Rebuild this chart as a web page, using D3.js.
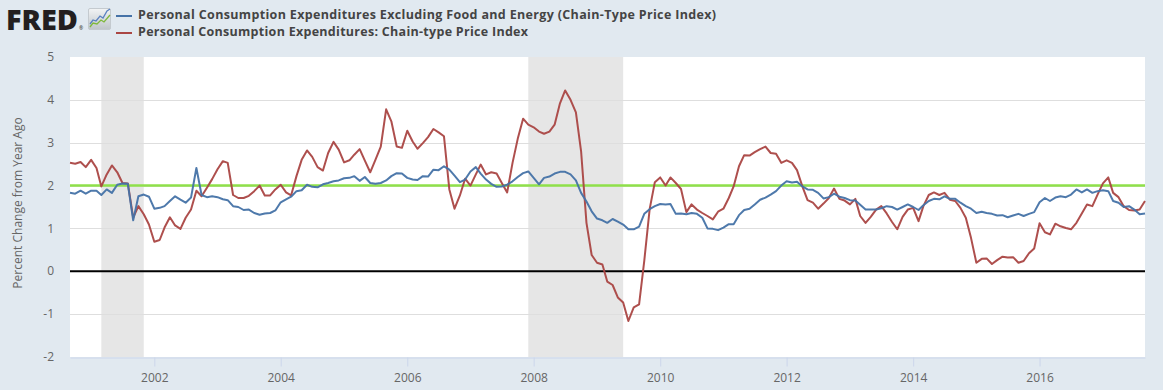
<!DOCTYPE html>
<html>
<head>
<meta charset="utf-8">
<script src="https://cdn.jsdelivr.net/npm/d3@7"></script>
<style>
  html, body { margin: 0; padding: 0; background: #e1e9f0; }
  svg { display: block; }
  text { font-family: "Open Sans", "DejaVu Sans", sans-serif; }
</style>
</head>
<body>
<svg id="chart" width="1163" height="390"></svg>
<script>
// ---- DATA ----
const seriesNames = [
  "Personal Consumption Expenditures Excluding Food and Energy (Chain-Type Price Index)",
  "Personal Consumption Expenditures: Chain-type Price Index"
];
const firstMonth = "2000-09";   // monthly observations, year-over-year % change
const coreValues = [
  1.83,1.81,1.88,1.81,1.88,1.88,1.78,1.91,1.83,2.02,2.05,2.04,
  1.19,1.75,1.79,1.74,1.46,1.48,1.52,1.64,1.75,1.67,1.60,1.72,
  2.41,1.78,1.73,1.75,1.73,1.68,1.66,1.52,1.50,1.43,1.44,1.36,
  1.32,1.35,1.36,1.42,1.61,1.68,1.74,1.87,1.89,2.02,1.97,1.96,
  2.03,2.06,2.10,2.12,2.17,2.18,2.22,2.11,2.20,2.06,2.04,2.06,
  2.12,2.22,2.29,2.28,2.18,2.14,2.13,2.22,2.21,2.37,2.36,2.45,
  2.37,2.23,2.08,2.14,2.33,2.43,2.28,2.14,2.04,1.97,1.98,2.02,
  2.10,2.20,2.29,2.33,2.18,2.03,2.18,2.21,2.28,2.32,2.32,2.26,
  2.12,1.83,1.63,1.40,1.23,1.19,1.13,1.22,1.16,1.09,0.98,0.98,
  1.04,1.34,1.45,1.52,1.57,1.56,1.57,1.34,1.35,1.33,1.36,1.34,
  1.25,1.00,0.99,0.96,1.02,1.10,1.10,1.31,1.43,1.46,1.56,1.67,
  1.72,1.79,1.87,2.00,2.10,2.07,2.09,1.98,1.91,1.90,1.83,1.70,
  1.73,1.81,1.74,1.71,1.66,1.65,1.55,1.44,1.44,1.44,1.47,1.52,
  1.50,1.44,1.50,1.56,1.50,1.43,1.54,1.64,1.69,1.68,1.75,1.69,
  1.69,1.60,1.52,1.46,1.36,1.39,1.36,1.34,1.30,1.31,1.26,1.30,
  1.34,1.29,1.34,1.38,1.61,1.71,1.64,1.72,1.75,1.73,1.79,1.91,
  1.84,1.91,1.83,1.87,1.89,1.87,1.64,1.60,1.50,1.52,1.44,1.33,
  1.35
];
const headlineValues = [
  2.53,2.51,2.55,2.43,2.60,2.41,1.98,2.26,2.47,2.31,2.06,2.05,
  1.25,1.52,1.33,1.09,0.69,0.73,1.02,1.26,1.07,0.99,1.25,1.44,
  1.88,1.75,1.95,2.15,2.38,2.57,2.53,1.78,1.71,1.71,1.76,1.87,
  2.00,1.77,1.77,1.91,2.02,1.84,1.77,2.22,2.60,2.82,2.67,2.43,
  2.35,2.76,3.02,2.84,2.54,2.59,2.72,2.85,2.58,2.31,2.60,2.91,
  3.78,3.50,2.91,2.88,3.28,3.03,2.86,2.99,3.13,3.32,3.24,3.15,
  1.91,1.46,1.77,2.16,2.00,2.26,2.49,2.26,2.31,2.28,2.06,1.84,
  2.53,3.09,3.56,3.42,3.36,3.26,3.21,3.26,3.42,3.92,4.22,4.00,
  3.71,2.80,1.13,0.38,0.20,0.16,-0.24,-0.32,-0.61,-0.73,-1.16,-0.84,
  -0.77,0.25,1.45,2.08,2.19,2.00,2.19,2.06,1.92,1.38,1.56,1.44,
  1.36,1.29,1.21,1.39,1.46,1.71,1.98,2.45,2.71,2.70,2.78,2.85,
  2.91,2.76,2.74,2.53,2.59,2.53,2.36,1.98,1.66,1.60,1.46,1.58,
  1.71,1.93,1.69,1.65,1.56,1.69,1.29,1.13,1.27,1.44,1.52,1.35,
  1.15,0.98,1.27,1.44,1.48,1.17,1.52,1.78,1.84,1.78,1.83,1.67,
  1.64,1.48,1.25,0.78,0.20,0.29,0.30,0.17,0.26,0.34,0.32,0.33,
  0.20,0.24,0.42,0.53,1.12,0.91,0.86,1.11,1.05,1.01,0.98,1.13,
  1.35,1.56,1.52,1.79,2.05,2.19,1.83,1.73,1.52,1.43,1.42,1.44,
  1.64
];
const recessions = [["2001-03-01","2001-11-01"],["2007-12-01","2009-06-01"]];
const targetLine = 2;
const yTicks = [-2,-1,0,1,2,3,4,5];
const xTickLabels = ["2002","2004","2006","2008","2010","2012","2014","2016"];
const yAxisTitle = "Percent Change from Year Ago";

// ---- CHART ----
const W = 1163, H = 390;
const M = {left: 70, right: 18, top: 57, bottom: 32};
const svg = d3.select("#chart");
const parseMonth = d3.timeParse("%Y-%m");
const parseDay = d3.timeParse("%Y-%m-%d");
const start = parseMonth(firstMonth);
const dates = coreValues.map((_, i) => d3.timeMonth.offset(start, i));

const x = d3.scaleTime()
  .domain([dates[0], dates[dates.length - 1]])
  .range([M.left, W - M.right]);
const y = d3.scaleLinear().domain([-2, 5]).range([H - M.bottom - 1, M.top]);

// plot background
svg.append("rect")
  .attr("x", M.left).attr("y", M.top)
  .attr("width", x.range()[1] - M.left)
  .attr("height", y(-2) - M.top)
  .attr("fill", "#ffffff");

// recession shading
svg.append("g").selectAll("rect").data(recessions).join("rect")
  .attr("x", d => x(parseDay(d[0])))
  .attr("y", M.top)
  .attr("width", d => x(parseDay(d[1])) - x(parseDay(d[0])))
  .attr("height", y(-2) - M.top)
  .attr("fill", "#e6e6e6");

// horizontal gridlines
svg.append("g").selectAll("line").data(yTicks.filter(v => v !== 0 && v !== 5 && v !== -2)).join("line")
  .attr("x1", M.left).attr("x2", x.range()[1])
  .attr("y1", d => Math.round(y(d)) + 0.5).attr("y2", d => Math.round(y(d)) + 0.5)
  .attr("stroke", "#dedede").attr("stroke-width", 1);

// y tick labels
svg.append("g").selectAll("text").data(yTicks).join("text")
  .attr("x", 54).attr("y", d => y(d)).attr("dy", "0.35em")
  .attr("text-anchor", "end")
  .attr("font-size", 12).attr("fill", "#666666")
  .text(d => d);

// y axis title
svg.append("text")
  .attr("transform", `translate(22,${(y(5) + y(-2)) / 2 - 4}) rotate(-90)`)
  .attr("text-anchor", "middle")
  .attr("font-size", 12).attr("fill", "#666666")
  .text(yAxisTitle);

// x axis
const xTickDates = xTickLabels.map(s => parseDay(s + "-01-01"));
const xAxis = d3.axisBottom(x)
  .tickValues(xTickDates)
  .tickFormat((d, i) => xTickLabels[i])
  .tickSize(9).tickSizeOuter(0);
const gx = svg.append("g")
  .attr("transform", `translate(0,${Math.round(y(-2)) + 0.5})`)
  .call(xAxis);
gx.select(".domain").attr("stroke", "#ccd6eb");
gx.selectAll(".tick line").attr("stroke", "#ccd6eb");
gx.selectAll(".tick text")
  .attr("font-size", 12).attr("fill", "#666666")
  .attr("font-family", "'Open Sans', sans-serif")
  .attr("dy", "1.0em");

// zero line
svg.append("line")
  .attr("x1", M.left).attr("x2", x.range()[1])
  .attr("y1", y(0)).attr("y2", y(0))
  .attr("stroke", "#000000").attr("stroke-width", 2);

// 2% line
svg.append("line")
  .attr("x1", M.left).attr("x2", x.range()[1])
  .attr("y1", y(targetLine)).attr("y2", y(targetLine))
  .attr("stroke", "#8fe04a").attr("stroke-width", 2.5);

// series
const line = d3.line().x((d, i) => x(dates[i])).y(d => y(d));
const colors = ["#4572a7", "#aa4643"];
[headlineValues, coreValues].forEach((vals, k) => {
  svg.append("path")
    .datum(vals)
    .attr("d", line)
    .attr("fill", "none")
    .attr("stroke", k === 0 ? colors[1] : colors[0])
    .attr("stroke-width", 2)
    .attr("stroke-linejoin", "round")
    .attr("opacity", 0.95);
});

// ---- HEADER ----
svg.append("text")
  .attr("x", 6).attr("y", 30)
  .attr("font-family", "Roboto, 'Liberation Sans', sans-serif")
  .attr("font-weight", 900).attr("font-size", 28)
  .attr("textLength", 72).attr("lengthAdjust", "spacingAndGlyphs")
  .attr("fill", "#231f20")
  .text("FRED");
svg.append("text")
  .attr("x", 79).attr("y", 30)
  .attr("font-size", 5).attr("fill", "#231f20")
  .text("®");
// small chart icon
const defs = svg.append("defs");
const grad = defs.append("linearGradient").attr("id", "icoGrad")
  .attr("x1", 0).attr("y1", 0).attr("x2", 0).attr("y2", 1);
grad.append("stop").attr("offset", "0%").attr("stop-color", "#f2f4f5");
grad.append("stop").attr("offset", "100%").attr("stop-color", "#bfc5ca");
svg.append("rect").attr("x", 88.5).attr("y", 8.5).attr("width", 22).attr("height", 21)
  .attr("fill", "url(#icoGrad)").attr("stroke", "#c4cacf").attr("stroke-width", 1).attr("rx", 1.5);
svg.append("polyline")
  .attr("points", "90,24 93,20 96,21 100,16 103,18 107,11 110,9")
  .attr("fill", "none").attr("stroke", "#5b82c0").attr("stroke-width", 1.3);
svg.append("polyline")
  .attr("points", "90,27 93,23 97,24 101,20 104,22 110,15")
  .attr("fill", "none").attr("stroke", "#7fb83c").attr("stroke-width", 1.3);

// legend
const legend = svg.append("g");
[[colors[0], seriesNames[0], 15, 578], [colors[1], seriesNames[1], 32, 390]].forEach(([c, t, yy, len]) => {
  legend.append("line").attr("x1", 116).attr("x2", 132).attr("y1", yy + 1).attr("y2", yy + 1)
    .attr("stroke", c).attr("stroke-width", 2);
  legend.append("text").attr("x", 138).attr("y", yy).attr("dy", "0.35em")
    .attr("font-size", 12.5).attr("font-weight", 700).attr("fill", "#444444")
    .attr("textLength", len).attr("lengthAdjust", "spacing")
    .text(t);
});
</script>
</body>
</html>
